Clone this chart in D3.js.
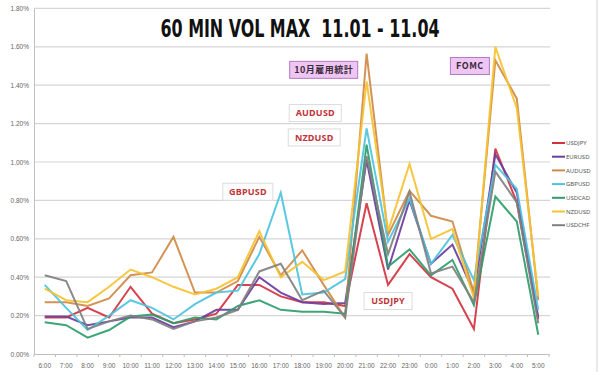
<!DOCTYPE html>
<html>
<head>
<meta charset="utf-8">
<script src="https://cdn.jsdelivr.net/npm/d3@7"></script>
<style>
  body { margin: 0; background: #fff; }
  svg { display: block; }
</style>
</head>
<body>
<div id="chart"></div>
<script>
// Canvas size.
var width = 600;
var height = 375;

// Hours on the x axis.
var hours = ["6:00", "7:00", "8:00", "9:00", "10:00", "11:00", "12:00", "13:00", "14:00", "15:00",
  "16:00", "17:00", "18:00", "19:00", "20:00", "21:00", "22:00", "23:00", "0:00", "1:00",
  "2:00", "3:00", "4:00", "5:00"];

// Series names and values (max 60 min volatility, in %).
var pairs = ["USDJPY", "EURUSD", "AUDUSD", "GBPUSD", "USDCAD", "NZDUSD", "USDCHF"];
var usdjpy = [0.19, 0.19, 0.24, 0.19, 0.35, 0.21, 0.16, 0.18, 0.21, 0.36, 0.36, 0.30, 0.27, 0.27, 0.25, 0.785, 0.36, 0.52, 0.40, 0.34, 0.13, 1.07, 0.79, 0.18];
var eurusd = [0.195, 0.195, 0.15, 0.17, 0.19, 0.19, 0.14, 0.17, 0.23, 0.23, 0.40, 0.32, 0.27, 0.26, 0.265, 1.01, 0.44, 0.80, 0.47, 0.57, 0.32, 1.04, 0.84, 0.19];
var audusd = [0.27, 0.27, 0.25, 0.29, 0.41, 0.425, 0.61, 0.32, 0.32, 0.38, 0.61, 0.41, 0.54, 0.36, 0.19, 1.565, 0.62, 0.85, 0.72, 0.69, 0.32, 1.53, 1.33, 0.28];
var gbpusd = [0.36, 0.24, 0.125, 0.20, 0.28, 0.24, 0.18, 0.26, 0.32, 0.33, 0.52, 0.84, 0.31, 0.32, 0.39, 1.175, 0.585, 0.81, 0.47, 0.62, 0.385, 0.985, 0.86, 0.23];
var usdcad = [0.165, 0.15, 0.085, 0.125, 0.195, 0.205, 0.16, 0.19, 0.18, 0.25, 0.28, 0.23, 0.22, 0.22, 0.21, 1.09, 0.455, 0.545, 0.41, 0.49, 0.255, 0.82, 0.69, 0.10];
var nzdusd = [0.34, 0.28, 0.27, 0.35, 0.44, 0.40, 0.35, 0.31, 0.34, 0.40, 0.64, 0.40, 0.48, 0.385, 0.43, 1.42, 0.64, 0.99, 0.60, 0.65, 0.29, 1.60, 1.28, 0.30];
var usdchf = [0.41, 0.38, 0.13, 0.17, 0.20, 0.18, 0.13, 0.17, 0.19, 0.23, 0.43, 0.47, 0.28, 0.33, 0.19, 1.03, 0.52, 0.845, 0.42, 0.455, 0.27, 0.95, 0.79, 0.16];
var seriesValues = [usdjpy, eurusd, audusd, gbpusd, usdcad, nzdusd, usdchf];
var pairColors = ["#d2323f", "#6a3d9e", "#d08a48", "#4cc3de", "#2e9d6a", "#f4c232", "#808080"];

// Y ticks (in %).
var yTicks = [0, 0.2, 0.4, 0.6, 0.8, 1.0, 1.2, 1.4, 1.6, 1.8];

// Text notes on the chart: label, anchor hour, offset px, value.
var notes = [
  { label: "10月雇用統計", hour: "19:00", dx: 0, v: 1.48, w: 68, kind: "event" },
  { label: "FOMC", hour: "2:00", dx: -4, v: 1.50, w: 39, kind: "event" },
  { label: "AUDUSD", hour: "18:00", dx: 13, v: 1.255, w: 52, kind: "pair" },
  { label: "NZDUSD", hour: "18:00", dx: 12, v: 1.128, w: 52, kind: "pair" },
  { label: "GBPUSD", hour: "15:00", dx: 10, v: 0.845, w: 50, kind: "pair" },
  { label: "USDJPY", hour: "22:00", dx: 0, v: 0.276, w: 48, kind: "pair" }
];

var plot = { left: 34, right: 549, top: 8.4, bottom: 354 };

var svg = d3.select("#chart").append("svg")
  .attr("width", width)
  .attr("height", height)
  .style("font-family", "'Noto Sans', 'DejaVu Sans', sans-serif");

var x = d3.scaleBand().domain(hours).range([plot.left, plot.right]).padding(0);
var y = d3.scaleLinear().domain([0, 1.8]).range([plot.bottom, plot.top]);
var cx = function(h) { return x(h) + x.bandwidth() / 2; };

// Right-hand frame line.
svg.append("line")
  .attr("x1", 597).attr("x2", 597).attr("y1", 0).attr("y2", 372)
  .attr("stroke", "#d4d4d4").attr("stroke-width", 1);

// Gridlines.
svg.append("g")
  .selectAll("line")
  .data(yTicks.slice(1))
  .enter().append("line")
  .attr("x1", plot.left).attr("x2", plot.right + 1)
  .attr("y1", d => y(d)).attr("y2", d => y(d))
  .attr("stroke", "#d6d6d6").attr("stroke-width", 1.2);

// Y axis.
var yAxis = svg.append("g")
  .attr("transform", "translate(" + plot.left + ",0)")
  .call(d3.axisLeft(y).tickValues(yTicks).tickSize(0).tickPadding(5)
    .tickFormat(d => d.toFixed(2) + "%"));
yAxis.select(".domain").attr("stroke", "#bfbfbf");
yAxis.selectAll("text").attr("fill", "#666").style("font-size", "6.5px");

// X axis.
var xAxis = svg.append("g")
  .attr("transform", "translate(0," + plot.bottom + ")")
  .call(d3.axisBottom(x).tickSize(0).tickPadding(9));
xAxis.select(".domain").attr("stroke", "#bfbfbf");
xAxis.selectAll("text").attr("fill", "#666").style("font-size", "6.5px");
xAxis.selectAll(".sep")
  .data(hours.concat(["end"]))
  .enter().append("line")
  .attr("class", "sep")
  .attr("x1", (d, i) => plot.left + i * x.bandwidth())
  .attr("x2", (d, i) => plot.left + i * x.bandwidth())
  .attr("y1", 0).attr("y2", 3)
  .attr("stroke", "#bfbfbf");

// Lines.
var line = d3.line()
  .x((d, i) => cx(hours[i]))
  .y(d => y(d));

svg.append("g")
  .selectAll("path")
  .data(seriesValues)
  .enter().append("path")
  .attr("d", line)
  .attr("fill", "none")
  .attr("stroke", (d, i) => pairColors[i])
  .attr("stroke-width", 2)
  .attr("stroke-linejoin", "miter")
  .attr("opacity", 0.92);

// Title (keep the double space).
svg.append("text")
  .attr("x", 300).attr("y", 37)
  .attr("text-anchor", "middle")
  .attr("textLength", 279)
  .attr("lengthAdjust", "spacingAndGlyphs")
  .style("white-space", "pre")
  .style("font-family", "'Liberation Sans Narrow', 'DejaVu Sans Condensed', sans-serif")
  .style("font-weight", "bold")
  .style("font-size", "25px")
  .attr("fill", "#111")
  .text("60 MIN VOL MAX  11.01 - 11.04");

// Notes.
var note = svg.append("g")
  .selectAll("g")
  .data(notes)
  .enter().append("g")
  .attr("transform", d => "translate(" + (cx(d.hour) + d.dx) + "," + y(d.v) + ")");

note.append("rect")
  .attr("x", d => -d.w / 2).attr("y", -8.5)
  .attr("width", d => d.w).attr("height", 17)
  .attr("fill", d => d.kind === "event" ? "#efc6f3" : "#fff")
  .attr("stroke", d => d.kind === "event" ? "#b27ac0" : "#dcdcdc")
  .attr("stroke-width", 1);

note.append("text")
  .attr("text-anchor", "middle")
  .attr("dy", "0.36em")
  .style("font-weight", "bold")
  .style("font-size", "9px")
  .style("letter-spacing", d => d.kind === "event" ? "0.5px" : "0.2px")
  .style("font-family", d => d.kind === "event" ? "'Noto Sans CJK JP', 'Noto Sans', sans-serif" : "'Noto Sans', sans-serif")
  .attr("fill", d => d.kind === "event" ? "#3a2a3a" : "#c0343a")
  .text(d => d.label);

// Legend.
var legend = svg.append("g")
  .selectAll("g")
  .data(pairs)
  .enter().append("g")
  .attr("transform", (d, i) => "translate(552," + (143 + i * 13.7) + ")");

legend.append("line")
  .attr("x1", 0).attr("x2", 13)
  .attr("stroke", (d, i) => pairColors[i])
  .attr("stroke-width", 2);

legend.append("text")
  .attr("x", 14).attr("dy", "0.35em")
  .style("font-size", "6px")
  .attr("fill", "#555")
  .text(d => d);
</script>
</body>
</html>
